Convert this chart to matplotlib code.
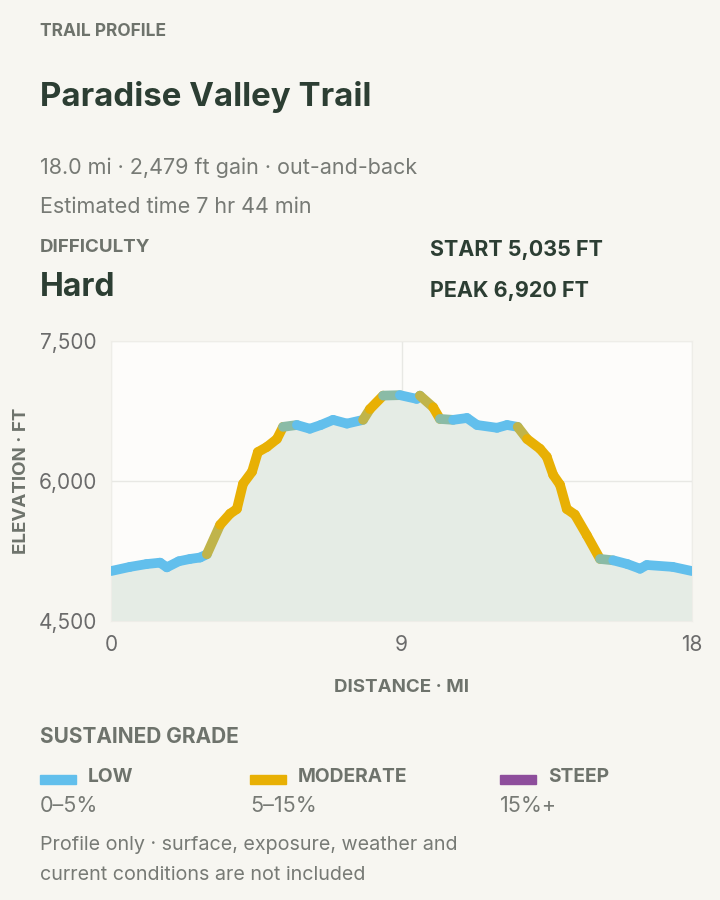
import matplotlib

matplotlib.use("Agg")
import matplotlib.pyplot as plt
import numpy as np
from matplotlib.collections import LineCollection
from matplotlib.colors import to_rgb
from matplotlib.patches import Rectangle
from matplotlib.ticker import FuncFormatter

# profile (miles, feet)
distance_mi = [0.0, 0.59, 1.10, 1.52, 1.73, 2.10, 2.45, 2.76, 2.97, 3.38, 3.69, 3.90,
               4.09, 4.37, 4.55, 4.83, 5.14, 5.33, 5.76, 6.16, 6.50, 6.88, 7.31, 7.81,
               8.02, 8.43, 8.95, 9.47, 9.57, 9.98, 10.19, 10.60, 11.03, 11.34, 11.96,
               12.27, 12.60, 12.89, 13.29, 13.50, 13.70, 13.91, 14.12, 14.37, 14.74,
               15.15, 15.56, 16.00, 16.39, 16.60, 17.40, 18.0]
elevation_ft = [5035, 5080, 5110, 5125, 5075, 5140, 5165, 5180, 5215, 5530, 5650, 5700,
                5970, 6100, 6310, 6365, 6450, 6580, 6600, 6560, 6600, 6655, 6615, 6655,
                6770, 6915, 6920, 6880, 6915, 6790, 6665, 6655, 6675, 6600, 6570,
                6600, 6580, 6450, 6345, 6260, 6065, 5960, 5700, 5640, 5420,
                5165, 5150, 5110, 5060, 5100, 5080, 5035]
# grade class of the segment starting at each point (0 low, 1 moderate, 2 steep)
grade_class = [0, 0, 0, 0, 0, 0, 0, 0, 1, 1, 1, 1,
               1, 1, 1, 1, 1, 0, 0, 0, 0, 0, 0, 1,
               1, 0, 0, 0, 1, 1, 0, 0, 0, 0, 0,
               0, 1, 1, 1, 1, 1, 1, 1, 1, 1,
               0, 0, 0, 0, 0, 0]

grade_names = ["LOW", "MODERATE", "STEEP"]
grade_ranges = ["0–5%", "5–15%", "15%+"]
grade_colors = ["#62BFEC", "#E8B004", "#8E4E9C"]

y_ticks = [4500, 6000, 7500]
x_ticks = [0, 9, 18]

BG = "#F7F6F1"
DARK = "#2C3E33"
MUTED = "#6E736C"
GREY = "#777A75"

plt.rcParams["font.family"] = ["Inter", "DejaVu Sans"]

fig = plt.figure(figsize=(7.2, 9), dpi=100, facecolor=BG)


def put(x, y, s, size, bold=False, color=GREY):
    fig.text(x / 720, 1 - y / 900, s, fontsize=size, color=color, va="center",
             fontweight="bold" if bold else "normal")


# header text
put(40, 31, "TRAIL PROFILE", 12.5, True, MUTED)
put(40, 97, "Paradise Valley Trail", 23.8, True, DARK)
put(40, 168, "18.0 mi · 2,479 ft gain · out-and-back", 15.5)
put(40, 207, "Estimated time 7 hr 44 min", 15.5)
put(40, 247, "DIFFICULTY", 13.5, True, MUTED)
put(40, 287, "Hard", 23, True, DARK)
put(430, 250, "START 5,035 FT", 15.5, True, DARK)
put(430, 291, "PEAK 6,920 FT", 15.5, True, DARK)

# elevation chart
ax = fig.add_axes([111 / 720, 1 - 621 / 900, 581 / 720, 280 / 900])
ax.set_facecolor("#FDFCFA")
x = np.array(distance_mi)
y = np.array(elevation_ft)
ax.fill_between(x, y, y_ticks[0], color="#E5ECE5", lw=0, zorder=1)

segs = np.stack([np.column_stack([x[:-1], y[:-1]]), np.column_stack([x[1:], y[1:]])], axis=1)
cols = []
for i, g in enumerate(grade_class):
    c = np.array(to_rgb(grade_colors[g]))
    prev_g = grade_class[i - 1] if i > 0 else g
    if prev_g != g:
        c = 0.7 * c + 0.3 * np.array(to_rgb(grade_colors[prev_g]))
    cols.append(c)
lc = LineCollection(segs, colors=cols, linewidths=7, capstyle="round",
                    joinstyle="round", zorder=3)
ax.add_collection(lc)

ax.set_xlim(0, 18)
ax.set_ylim(4500, 7500)
ax.set_xticks(x_ticks)
ax.set_yticks(y_ticks)
ax.yaxis.set_major_formatter(FuncFormatter(lambda v, p: f"{int(v):,}"))
ax.tick_params(length=0, labelsize=15, labelcolor="#6B6B6B", pad=10)
ax.grid(True, color="#E8E8E4", lw=1, zorder=0)
for s in ax.spines.values():
    s.set_color("#EEEDE8")
ax.set_axisbelow(True)
ax.set_xlabel("DISTANCE · MI", fontsize=13.5, fontweight="bold", color=MUTED, labelpad=17)
ax.set_ylabel("ELEVATION · FT", fontsize=13.5, fontweight="bold", color=MUTED, labelpad=6)

# legend
put(40, 737, "SUSTAINED GRADE", 15, True, MUTED)
for i, (name, rng, col) in enumerate(zip(grade_names, grade_ranges, grade_colors)):
    x0 = [40, 250, 500][i]
    fig.patches.append(Rectangle((x0 / 720, 1 - 784 / 900), 36 / 720, 9 / 900,
                                 transform=fig.transFigure, color=col))
    put(x0 + 48, 777, name, 13.8, True, MUTED)
    put(x0, 806, rng, 15.5)

put(40, 845, "Profile only · surface, exposure, weather and", 14.2)
put(40, 875, "current conditions are not included", 14.2)

fig.savefig("out.png", dpi=100, facecolor=BG)
